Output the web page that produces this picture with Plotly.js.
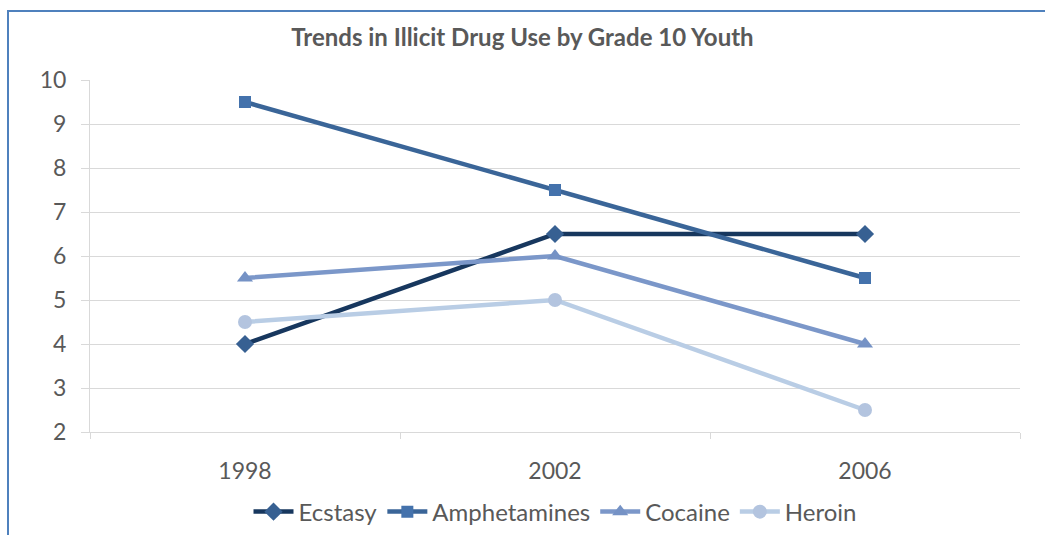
<!DOCTYPE html>
<html>
<head>
<meta charset="utf-8">
<script src="https://cdn.plot.ly/plotly-3.0.1.min.js"></script>
<style>
html,body{margin:0;padding:0;background:#fff;}
#wrap{position:relative;width:1045px;height:535px;overflow:hidden;}
#chart{width:1045px;height:535px;}
#frame{position:absolute;left:7px;top:10px;width:1100px;height:600px;border:2px solid #4F81BD;box-sizing:border-box;pointer-events:none;}
</style>
</head>
<body>
<div id="wrap"><div id="chart"></div><div id="frame"></div></div>
<script>
const years = ["1998", "2002", "2006"];
const ecstasy = [4, 6.5, 6.5];
const amphetamines = [9.5, 7.5, 5.5];
const cocaine = [5.5, 6, 4];
const heroin = [4.5, 5, 2.5];

function series(name, y, lineColor, markerColor, symbol, size) {
  return {
    type: 'scatter', mode: 'lines+markers', name: name, x: years, y: y,
    line: {color: lineColor, width: 4.5},
    marker: {symbol: symbol, size: size, color: markerColor, line: {width: 0}}
  };
}

const data = [
  series('Ecstasy', ecstasy, '#17375E', '#376092', 'diamond', 14),
  series('Amphetamines', amphetamines, '#3A6598', '#4472AC', 'square', 12),
  series('Cocaine', cocaine, '#7B97C9', '#7592C5', 'triangle-up', 14),
  series('Heroin', heroin, '#B9CDE5', '#B3C4DF', 'circle', 14)
];

const layout = {
  width: 1045, height: 535,
  margin: {l: 90, r: 25, t: 80, b: 103, autoexpand: false},
  paper_bgcolor: '#fff', plot_bgcolor: '#fff',
  font: {family: 'Lato, "Liberation Sans", sans-serif', color: '#595959', size: 23},
  title: {text: '<b>Trends in Illicit Drug Use by Grade 10 Youth</b>', x: 0.5, xanchor: 'center', y: 0.93, yanchor: 'middle',
          font: {size: 24, color: '#595959', family: 'Lato, "Liberation Sans", sans-serif'}},
  xaxis: {type: 'category', tickson: 'boundaries', ticks: 'outside', ticklen: 6, tickcolor: '#D9D9D9',
          showgrid: false, showline: true, linecolor: '#D9D9D9', linewidth: 1, zeroline: false,
          ticklabelstandoff: 18, tickfont: {size: 23}, range: [-0.5, 2.5]},
  yaxis: {range: [2, 10], dtick: 1, tick0: 2, ticks: 'outside', ticklen: 8, tickcolor: '#D9D9D9',
          showgrid: true, gridcolor: '#D9D9D9', gridwidth: 1, showline: true, linecolor: '#D9D9D9',
          zeroline: false, ticklabelstandoff: 10, tickfont: {size: 23}},
  legend: {orientation: 'h', x: 0.5, xanchor: 'center', yref: 'container', y: 0.085, yanchor: 'top',
           font: {size: 24, color: '#595959'}, itemwidth: 40, traceorder: 'normal'},
  showlegend: true
};

Plotly.newPlot('chart', data, layout, {displayModeBar: false, staticPlot: true});
</script>
</body>
</html>
